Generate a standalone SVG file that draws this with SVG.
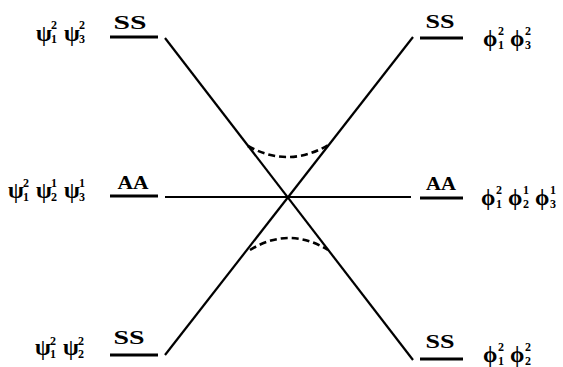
<svg xmlns="http://www.w3.org/2000/svg" width="563" height="367" viewBox="0 0 563 367">
<style>
.g{font-family:"Liberation Serif","DejaVu Serif",serif;font-weight:bold;font-size:23px;fill:#000}
.s{font-family:"Liberation Serif","DejaVu Serif",serif;font-weight:bold;font-size:12px;fill:#000}
.lv{font-family:"Liberation Serif","DejaVu Serif",serif;font-weight:bold;font-size:19px;fill:#000;text-anchor:middle}
.lvl{stroke:#000;stroke-width:3;fill:none}
.ln{stroke:#000;stroke-width:2.2;fill:none}
.dash{stroke:#000;stroke-width:2.6;fill:none;stroke-dasharray:7 4}
</style>
<rect width="563" height="367" fill="#fff"/>
<g id="connectors">
<line class="ln" x1="165" y1="38" x2="413" y2="360"/>
<line class="ln" x1="165" y1="355" x2="413" y2="37"/>
<line class="ln" x1="165" y1="197" x2="411" y2="197"/>
<path class="dash" d="M248,146 Q289,169 330,144"/>
<path class="dash" d="M250,250 Q289,226 328,250"/>
</g>
<g id="L-SS-top">
<line class="lvl" x1="110" y1="37" x2="158" y2="37"/>
<text class="lv" x="130" y="29" textLength="33" lengthAdjust="spacingAndGlyphs">SS</text>
<text class="g" x="36" y="41">ψ</text><text class="s" x="51" y="29">2</text><text class="s" x="51" y="43">1</text>
<text class="g" x="64" y="41">ψ</text><text class="s" x="79" y="29">2</text><text class="s" x="79" y="43">3</text>
</g>
<g id="L-AA">
<line class="lvl" x1="110" y1="196" x2="158" y2="196"/>
<text class="lv" x="133" y="189" textLength="31" lengthAdjust="spacingAndGlyphs">AA</text>
<text class="g" x="8" y="198">ψ</text><text class="s" x="23" y="187">2</text><text class="s" x="23" y="201">1</text>
<text class="g" x="36" y="198">ψ</text><text class="s" x="51" y="187">1</text><text class="s" x="51" y="201">2</text>
<text class="g" x="64" y="198">ψ</text><text class="s" x="79" y="187">1</text><text class="s" x="79" y="201">3</text>
</g>
<g id="L-SS-bottom">
<line class="lvl" x1="110" y1="355" x2="158" y2="355"/>
<text class="lv" x="129" y="344" textLength="31" lengthAdjust="spacingAndGlyphs">SS</text>
<text class="g" x="35" y="355">ψ</text><text class="s" x="50" y="345">2</text><text class="s" x="50" y="358">1</text>
<text class="g" x="63" y="355">ψ</text><text class="s" x="78" y="345">2</text><text class="s" x="78" y="358">2</text>
</g>
<g id="R-SS-top">
<line class="lvl" x1="420" y1="38" x2="463" y2="38"/>
<text class="lv" x="440" y="28" textLength="29" lengthAdjust="spacingAndGlyphs">SS</text>
<text class="g" x="483" y="46">ϕ</text><text class="s" x="498" y="35">2</text><text class="s" x="498" y="49">1</text>
<text class="g" x="510" y="46">ϕ</text><text class="s" x="525" y="35">2</text><text class="s" x="525" y="49">3</text>
</g>
<g id="R-AA">
<line class="lvl" x1="420" y1="198" x2="463" y2="198"/>
<text class="lv" x="441" y="190" textLength="30" lengthAdjust="spacingAndGlyphs">AA</text>
<text class="g" x="481" y="205">ϕ</text><text class="s" x="496" y="194">2</text><text class="s" x="496" y="208">1</text>
<text class="g" x="508" y="205">ϕ</text><text class="s" x="523" y="194">1</text><text class="s" x="523" y="208">2</text>
<text class="g" x="535" y="205">ϕ</text><text class="s" x="550" y="194">1</text><text class="s" x="550" y="208">3</text>
</g>
<g id="R-SS-bottom">
<line class="lvl" x1="420" y1="359" x2="463" y2="359"/>
<text class="lv" x="440" y="348" textLength="29" lengthAdjust="spacingAndGlyphs">SS</text>
<text class="g" x="483" y="362">ϕ</text><text class="s" x="498" y="351">2</text><text class="s" x="498" y="365">1</text>
<text class="g" x="510" y="362">ϕ</text><text class="s" x="525" y="351">2</text><text class="s" x="525" y="365">2</text>
</g>
</svg>
